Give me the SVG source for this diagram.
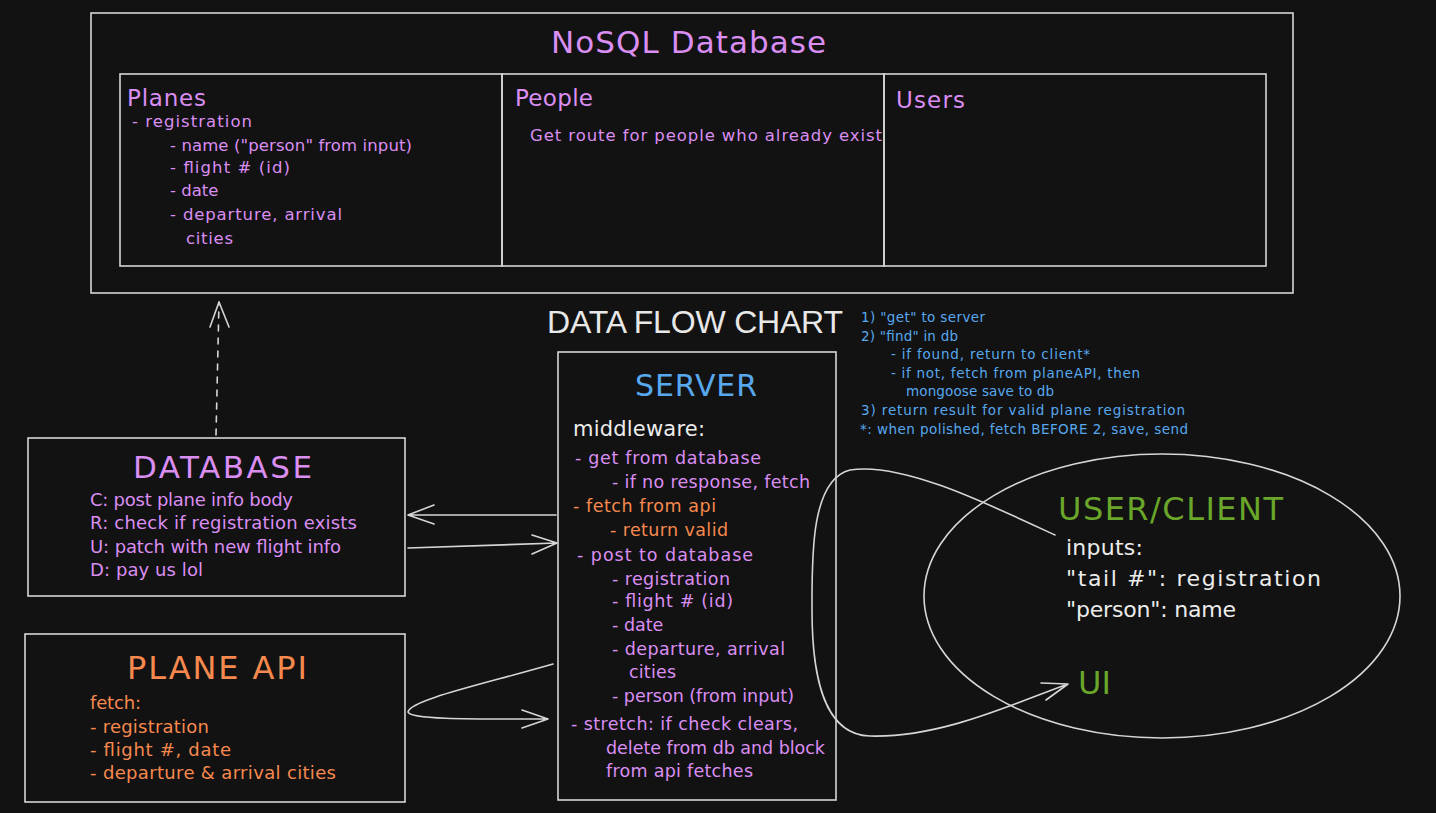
<svg xmlns="http://www.w3.org/2000/svg" width="1436" height="813" viewBox="0 0 1436 813">
<style>
.box{fill:none;stroke:#d6d6d6;stroke-width:1.6}
.ln{fill:none;stroke:#d6d6d6;stroke-width:1.6;stroke-linecap:round;stroke-linejoin:round}
.h{font-family:"DejaVu Sans",sans-serif}
.p{fill:#da8ef2}
.o{fill:#f7894e}
.b{fill:#58a8ee}
.g{fill:#6aa62a}
.w{fill:#ececec}
.t16{font-size:16.5px}
.t17{font-size:17.5px}
.t18{font-size:18px}
.n{font-size:13.5px}
</style>
<rect width="1436" height="813" fill="#121212"/>

<g id="nosql">
<rect class="box" x="91" y="13" width="1202" height="280"/>
<text class="h p" x="551" y="53" font-size="31" textLength="275" lengthAdjust="spacing">NoSQL Database</text>
</g>
<g id="planes">
<rect class="box" x="120" y="74" width="382" height="192"/>
<text class="h p" x="127" y="106" font-size="23" textLength="79" lengthAdjust="spacing">Planes</text>
<g class="h p t16">
<text x="132" y="127" textLength="120" lengthAdjust="spacing">- registration</text>
<text x="170" y="151" textLength="242" lengthAdjust="spacing">- name ("person" from input)</text>
<text x="170" y="173" textLength="120" lengthAdjust="spacing">- flight # (id)</text>
<text x="170" y="196">- date</text>
<text x="170" y="220" textLength="172" lengthAdjust="spacing">- departure, arrival</text>
<text x="186" y="244" textLength="47" lengthAdjust="spacing">cities</text>
</g>
</g>
<g id="people">
<rect class="box" x="502" y="74" width="382" height="192"/>
<text class="h p" x="515" y="106" font-size="23" textLength="78" lengthAdjust="spacing">People</text>
<text class="h p t16" x="530" y="141" textLength="352" lengthAdjust="spacing">Get route for people who already exist</text>
</g>
<g id="users">
<rect class="box" x="884" y="74" width="382" height="192"/>
<text class="h p" x="896" y="108" font-size="23" textLength="69" lengthAdjust="spacing">Users</text>
</g>

<g id="title">
<text x="547" y="333" font-family="Liberation Sans, Arial, sans-serif" font-size="32" fill="#e8e8e8" textLength="296" lengthAdjust="spacing">DATA FLOW CHART</text>
</g>

<g id="notes" class="h b n">
<text x="861" y="322" textLength="124" lengthAdjust="spacing">1) "get" to server</text>
<text x="861" y="341" textLength="97" lengthAdjust="spacing">2) "find" in db</text>
<text x="891" y="359" textLength="199" lengthAdjust="spacing">- if found, return to client*</text>
<text x="891" y="378" textLength="249" lengthAdjust="spacing">- if not, fetch from planeAPI, then</text>
<text x="906" y="396" textLength="148" lengthAdjust="spacing">mongoose save to db</text>
<text x="861" y="415" textLength="324" lengthAdjust="spacing">3) return result for valid plane registration</text>
<text x="860" y="434" textLength="328" lengthAdjust="spacing">*: when polished, fetch BEFORE 2, save, send</text>
</g>

<g id="database">
<rect class="box" x="28" y="438" width="377" height="158"/>
<text class="h p" x="133" y="478" font-size="31" textLength="179" lengthAdjust="spacing">DATABASE</text>
<g class="h p t18">
<text x="90" y="506" textLength="203" lengthAdjust="spacing">C: post plane info body</text>
<text x="90" y="529" textLength="267" lengthAdjust="spacing">R: check if registration exists</text>
<text x="90" y="553" textLength="251" lengthAdjust="spacing">U: patch with new flight info</text>
<text x="90" y="576" textLength="113" lengthAdjust="spacing">D: pay us lol</text>
</g>
</g>

<g id="planeapi">
<rect class="box" x="25" y="634" width="380" height="168"/>
<text class="h o" x="127" y="679" font-size="32" textLength="180" lengthAdjust="spacing">PLANE API</text>
<g class="h o t18">
<text x="90" y="709" textLength="51" lengthAdjust="spacing">fetch:</text>
<text x="90" y="733" textLength="119" lengthAdjust="spacing">- registration</text>
<text x="90" y="756" textLength="141" lengthAdjust="spacing">- flight #, date</text>
<text x="90" y="779" textLength="246" lengthAdjust="spacing">- departure &amp; arrival cities</text>
</g>
</g>

<g id="server">
<rect class="box" x="558" y="352" width="278" height="448"/>
<text class="h b" x="635" y="396" font-size="30" textLength="122" lengthAdjust="spacing">SERVER</text>
<text class="h w" x="573" y="436" font-size="21" textLength="132" lengthAdjust="spacing">middleware:</text>
<g class="h t17">
<text class="p" x="575" y="464" textLength="186" lengthAdjust="spacing">- get from database</text>
<text class="p" x="612" y="488" textLength="198" lengthAdjust="spacing">- if no response, fetch</text>
<text class="o" x="573" y="512" textLength="143" lengthAdjust="spacing">- fetch from api</text>
<text class="o" x="610" y="536" textLength="118" lengthAdjust="spacing">- return valid</text>
<text class="p" x="577" y="561" textLength="176" lengthAdjust="spacing">- post to database</text>
<text class="p" x="612" y="585" textLength="118" lengthAdjust="spacing">- registration</text>
<text class="p" x="612" y="607" textLength="121" lengthAdjust="spacing">- flight # (id)</text>
<text class="p" x="612" y="631">- date</text>
<text class="p" x="612" y="655" textLength="173" lengthAdjust="spacing">- departure, arrival</text>
<text class="p" x="629" y="678" textLength="47" lengthAdjust="spacing">cities</text>
<text class="p" x="612" y="702" textLength="182" lengthAdjust="spacing">- person (from input)</text>
<text class="p" x="571" y="730" textLength="227" lengthAdjust="spacing">- stretch: if check clears,</text>
<text class="p" x="606" y="754" textLength="219" lengthAdjust="spacing">delete from db and block</text>
<text class="p" x="606" y="777" textLength="147" lengthAdjust="spacing">from api fetches</text>
</g>
</g>

<g id="userclient">
<ellipse class="box" cx="1162" cy="596" rx="238" ry="142"/>
<text class="h g" x="1058" y="520" font-size="32" textLength="225" lengthAdjust="spacing">USER/CLIENT</text>
<g class="h w" font-size="22">
<text x="1066" y="555" textLength="77" lengthAdjust="spacing">inputs:</text>
<text x="1066" y="586" textLength="255" lengthAdjust="spacing">"tail #": registration</text>
<text x="1066" y="617" textLength="170" lengthAdjust="spacing">"person": name</text>
</g>
<text class="h g" x="1078" y="694" font-size="32">UI</text>
</g>

<g id="connectors">
<path class="ln" d="M556 515 L408 515 M434 505 L408 515 L434 524"/>
<path class="ln" d="M408 548 L557 543 M532 535 L557 543 L532 554"/>
<path class="ln" d="M553 664 C480 685 410 700 408 712 C410 720 480 719 548 719 M522 710 L548 719 L522 728"/>
<path class="ln" d="M216 435 L219 302" stroke-dasharray="6 7"/>
<path class="ln" d="M210 327 L219 302 L229 327"/>
<path class="ln" d="M1055 535 C980 500 900 462 850 470 C810 480 812 560 812 610 C812 680 825 735 870 736 C940 738 1010 705 1068 684 M1041 683 L1068 684 L1046 700"/>
</g>
</svg>
